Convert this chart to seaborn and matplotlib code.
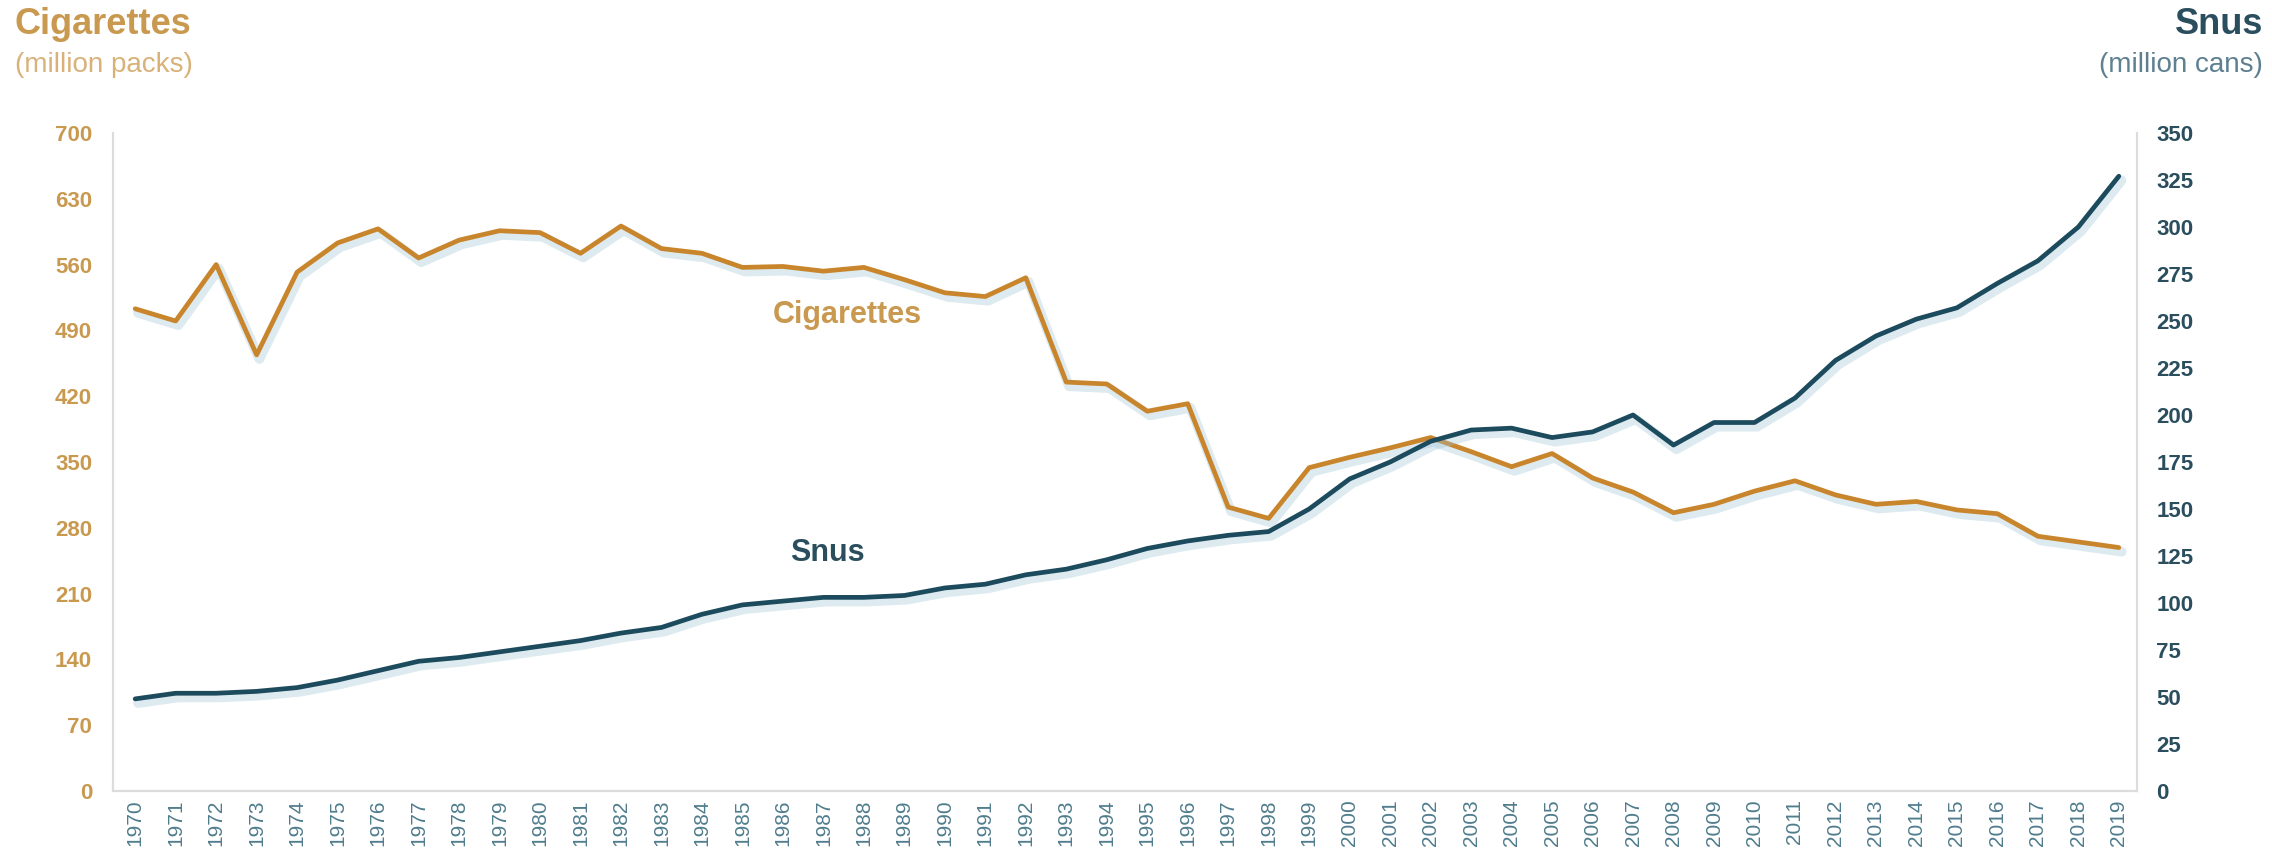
import numpy as np
import pandas as pd
import matplotlib
matplotlib.use("Agg")
import matplotlib.pyplot as plt
import matplotlib.patheffects as pe
import seaborn as sns

years = list(range(1970, 2020))
cigarettes = [513, 500, 560, 464, 552, 583, 598, 567, 586, 596,
              594, 572, 601, 577, 572, 557, 558, 553, 557, 544,
              530, 526, 546, 435, 433, 404, 412, 302, 290, 344,
              355, 365, 376, 361, 345, 359, 333, 318, 296, 305,
              319, 330, 315, 305, 308, 299, 295, 271, 265, 259]
snus = [49, 52, 52, 53, 55, 59, 64, 69, 71, 74,
        77, 80, 84, 87, 94, 99, 101, 103, 103, 104,
        108, 110, 115, 118, 123, 129, 133, 136, 138, 150,
        166, 175, 186, 192, 193, 188, 191, 200, 184, 196,
        196, 209, 229, 242, 251, 257, 270, 282, 300, 327]
left_ticks = [0, 70, 140, 210, 280, 350, 420, 490, 560, 630, 700]
right_ticks = [0, 25, 50, 75, 100, 125, 150, 175, 200, 225, 250, 275, 300, 325, 350]

CIG = "#C8852C"
CIG_TXT = "#C9994F"
SNUS = "#1D4B5E"
SNUS_TXT = "#2B4E5E"
XTXT = "#4F7C8C"

sns.set_style("white")
plt.rcParams['font.family'] = ['Liberation Sans', 'DejaVu Sans']

df = pd.DataFrame({"year": years, "cig": cigarettes, "snus": snus})

fig = plt.figure(figsize=(22.72, 8.68), dpi=100)
ax = fig.add_axes([0.0497, 0.0887, 0.8909, 0.7581])
ax2 = ax.twinx()

shadow = [pe.SimpleLineShadow(offset=(2, -3), shadow_color="#9ec3d6", alpha=0.35, linewidth=7), pe.Normal()]
sns.lineplot(data=df, x="year", y="cig", ax=ax, color=CIG, linewidth=3.4, path_effects=shadow)
sns.lineplot(data=df, x="year", y="snus", ax=ax2, color=SNUS, linewidth=3.4, path_effects=shadow)

ax.set_xlim(1969.45, 2019.45)
ax.set_ylim(0, 700)
ax2.set_ylim(0, 350)
ax.set_xlabel("")
ax.set_ylabel("")
ax2.set_ylabel("")

ax.set_xticks(years)
ax.set_xticklabels([str(y) for y in years], rotation=90, fontsize=15, color=XTXT)
ax.set_yticks(left_ticks)
ax.set_yticklabels([str(v) for v in left_ticks], fontsize=16, fontweight="bold", color=CIG_TXT)
ax2.set_yticks(right_ticks)
ax2.set_yticklabels([str(v) for v in right_ticks], fontsize=16, fontweight="bold", color=SNUS_TXT)

for a in (ax, ax2):
    a.spines["top"].set_visible(False)
    for s in ("left", "right", "bottom"):
        a.spines[s].set_color("#dcdcdc")
        a.spines[s].set_linewidth(1.5)
ax.tick_params(axis="y", length=0, pad=15)
ax2.tick_params(axis="y", length=0, pad=14)
ax.tick_params(axis="x", length=4, color="#dcdcdc", pad=2, direction="out")
ax.grid(False)
ax2.grid(False)

# inline labels
ax.text(1987.6, 506, "Cigarettes", color=CIG_TXT, fontsize=22, fontweight="bold", ha="center", va="center")
ax.text(1987.1, 253, "Snus", color=SNUS_TXT, fontsize=22, fontweight="bold", ha="center", va="center")

# axis titles
fig.text(0.0066, 0.972, "Cigarettes", color=CIG_TXT, fontsize=26, fontweight="bold", ha="left", va="center")
fig.text(0.0066, 0.925, "(million packs)", color="#D9B27A", fontsize=20, ha="left", va="center")
fig.text(0.996, 0.972, "Snus", color=SNUS_TXT, fontsize=26, fontweight="bold", ha="right", va="center")
fig.text(0.996, 0.925, "(million cans)", color="#5E8090", fontsize=20, ha="right", va="center")

fig.savefig("out.png", dpi=100, facecolor="white")
